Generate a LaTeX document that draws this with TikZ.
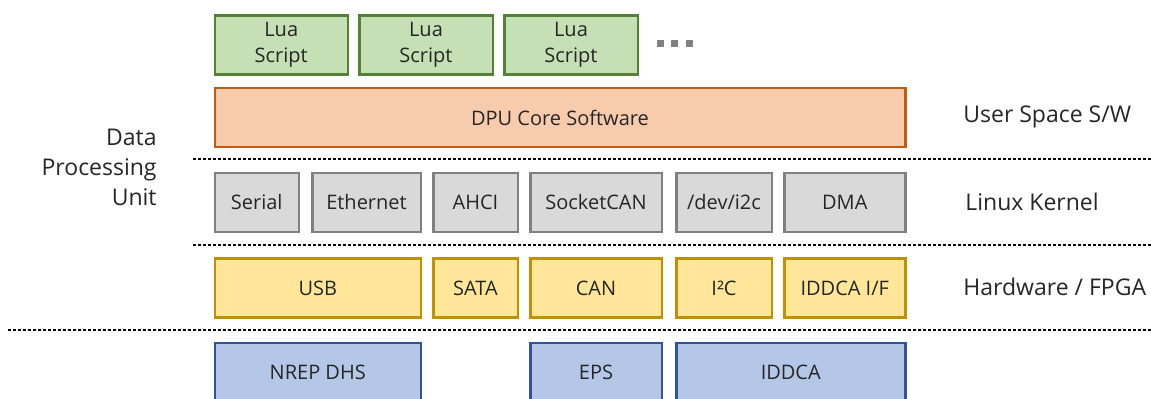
\documentclass[tikz,border=0pt]{standalone}
\usepackage{fontspec}
\setmainfont{Open Sans}
\usetikzlibrary{positioning}
\definecolor{luaFill}{HTML}{C5E0B4}
\definecolor{luaLine}{HTML}{548235}
\definecolor{coreFill}{HTML}{F8CBAD}
\definecolor{coreLine}{HTML}{C55A11}
\definecolor{kernFill}{HTML}{D9D9D9}
\definecolor{kernLine}{HTML}{808080}
\definecolor{hwFill}{HTML}{FFE699}
\definecolor{hwLine}{HTML}{BF9000}
\definecolor{devFill}{HTML}{B4C7E7}
\definecolor{devLine}{HTML}{2F5597}

\begin{document}
\begin{tikzpicture}[x=0.5pt, y=-0.5pt,
      every node/.style={text=black!85, font=\fontsize{10}{12.5}\selectfont},
      box/.style={draw, line width=1.25pt, inner sep=0pt, minimum height=29.5pt, align=center},
      sep/.style={line width=0.75pt, dash pattern=on 1.5pt off 1pt},
      layer/.style={anchor=west, inner sep=0pt, font=\fontsize{11.5}{15}\selectfont}]
    \useasboundingbox (0,0) rectangle (1151,399);
    % layer separators
    \draw[sep] (193,159) -- (1151,159);
    \draw[sep] (193,245) -- (1151,245);
    \draw[sep] (8,330) -- (1151,330);
    % lua scripts
    \foreach \i/\xa/\xb in {1/213.5/349, 2/358/494, 3/503/639}
      \node[box, fill=luaFill, draw=luaLine, minimum width={(\xb-\xa-2.5)*0.5pt},
        font=\fontsize{10}{13}\selectfont] (lua\i) at ({(\xa+\xb)/2},45) {Lua\\Script};
    \foreach \x in {660,674.5,689} \fill[kernLine] (\x-3.5,40.5) rectangle (\x+3.5,47.5);
    % user space
    \node[box, fill=coreFill, draw=coreLine, minimum width={(906.5-213.5-2.5)*0.5pt}]
      (core) at (560,117.5) {DPU Core Software};
    % kernel / name / left / right / text
    \foreach \nm/\xa/\xb/\txt in {serial/213.5/300/Serial, eth/311/422/Ethernet,
        ahci/432/519/AHCI, scan/529/663/SocketCAN, i2c/675/773/{/dev/i2c},
        dma/783/906.5/DMA}
      \node[box, fill=kernFill, draw=kernLine, minimum width={(\xb-\xa-2.5)*0.5pt}]
        (k-\nm) at ({(\xa+\xb)/2},202.5) {\txt};
    % hardware / fpga
    \foreach \nm/\xa/\xb/\txt in {usb/213.5/422/USB, sata/432/519/SATA,
        can/529/663/CAN, i2c/675/773/I²C, iddca/783/906.5/{IDDCA I/F}}
      \node[box, fill=hwFill, draw=hwLine, minimum width={(\xb-\xa-2.5)*0.5pt}]
        (h-\nm) at ({(\xa+\xb)/2},288) {\txt};
    % devices
    \foreach \nm/\xa/\xb/\txt in {nrep/213.5/422/NREP DHS, eps/529/663/EPS,
        iddca/675/906.5/IDDCA}
      \node[box, fill=devFill, draw=devLine, minimum width={(\xb-\xa-2.5)*0.5pt}]
        (d-\nm) at ({(\xa+\xb)/2},372.5) {\txt};
    % labels
    \node[layer, anchor=east, align=right] (dpu) at (157,167) {Data\\Processing\\Unit};
    \node[layer] (user) at (963,117) {User Space S/W};
    \node[layer] (kern) at (965,202) {Linux Kernel};
    \node[layer] (hw) at (963,287) {Hardware / FPGA};
  \end{tikzpicture}
\end{document}
